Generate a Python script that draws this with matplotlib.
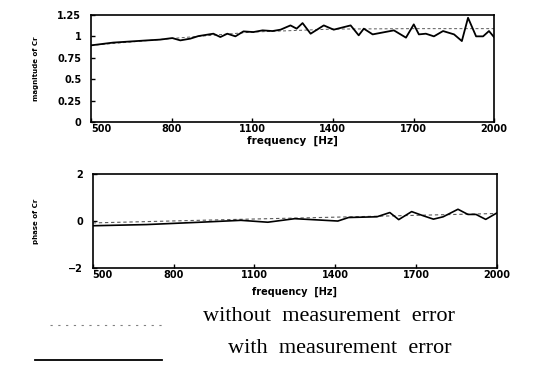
import matplotlib.pyplot as plt
from matplotlib.lines import Line2D

# magnitude of Cr, with measurement error
f_mag = [500, 582, 709, 757, 802, 832, 869, 899, 955, 981, 1007, 1037, 1067, 1104,
         1138, 1175, 1205, 1242, 1265, 1287, 1317, 1366, 1403, 1466, 1496, 1515,
         1548, 1627, 1672, 1701, 1720, 1746, 1776, 1810, 1851, 1880, 1903, 1933,
         1959, 1981, 2000]
mag_err = [0.895, 0.927, 0.953, 0.962, 0.98, 0.953, 0.973, 1.003, 1.031, 0.992,
           1.031, 1.0, 1.058, 1.05, 1.07, 1.062, 1.078, 1.128, 1.09, 1.155, 1.031,
           1.128, 1.078, 1.128, 1.012, 1.09, 1.023, 1.07, 0.985, 1.14, 1.023,
           1.031, 1.0, 1.062, 1.023, 0.945, 1.217, 1.0, 1.0, 1.062, 0.99]
# magnitude of Cr, without measurement error
f_mag0 = [500, 800, 1100, 1400, 1700, 2000]
mag_0 = [0.895, 0.975, 1.05, 1.085, 1.09, 1.09]

# phase of Cr, with measurement error
f_ph = [500, 700, 900, 1050, 1150, 1250, 1410, 1450, 1555, 1603, 1636, 1684,
        1728, 1765, 1801, 1856, 1893, 1923, 1959, 2000]
ph_err = [-0.2, -0.15, -0.05, 0.03, -0.05, 0.1, 0.0, 0.15, 0.18, 0.36, 0.06, 0.4,
          0.22, 0.08, 0.18, 0.5, 0.28, 0.28, 0.07, 0.34]
# phase of Cr, without measurement error
f_ph0 = [500, 1000, 1500, 2000]
ph_0 = [-0.08, 0.06, 0.19, 0.32]

xticks = [500, 800, 1100, 1400, 1700, 2000]
mag_ticks = [0, 0.25, 0.5, 0.75, 1, 1.25]
mag_ticklabels = ['0', '0.25', '0.5', '0.75', '1', '1.25']
ph_ticks = [-2, 0, 2]

tick_font = dict(family='DejaVu Sans', size=7, weight='bold')
dash_style = (0, (3, 2.5))

fig = plt.figure(figsize=(5.33, 3.74), dpi=100)

def style_axes(ax, xlabelpad, xlabelsize):
    ax.set_xlim(500, 2000)
    ax.set_xticks(xticks)
    ax.set_xticklabels([str(t) for t in xticks], fontdict=tick_font)
    ax.tick_params(direction='in', length=3, width=1)
    ax.tick_params(axis='x', pad=1.5)
    ax.tick_params(axis='y', pad=7)
    for s in ax.spines.values():
        s.set_linewidth(1.2)
    ax.get_xticklabels()[0].set_horizontalalignment('left')
    ax.set_xlabel('frequency  [Hz]', fontsize=xlabelsize, fontweight='semibold',
                  labelpad=xlabelpad)

# top: magnitude
ax1 = fig.add_axes([0.171, 0.674, 0.756, 0.286])
ax1.plot(f_mag0, mag_0, color='0.35', lw=0.7, linestyle=dash_style)
ax1.plot(f_mag, mag_err, color='black', lw=1.3)
ax1.set_ylim(0, 1.25)
ax1.set_yticks(mag_ticks)
ax1.set_yticklabels(mag_ticklabels, fontdict=tick_font)
style_axes(ax1, 1.5, 7.5)
ax1.set_ylabel('magnitude of Cr', fontsize=5, fontweight='bold', labelpad=13)

# bottom: phase
ax2 = fig.add_axes([0.174, 0.283, 0.758, 0.252])
ax2.plot(f_ph0, ph_0, color='0.35', lw=0.8, linestyle=dash_style)
ax2.plot(f_ph, ph_err, color='black', lw=1.2)
ax2.set_ylim(-2, 2)
ax2.set_yticks(ph_ticks)
ax2.set_yticklabels(['\u22122', '0', '2'], fontdict=tick_font)
style_axes(ax2, 5, 7)
ax2.set_ylabel('phase of Cr', fontsize=5, fontweight='bold', labelpad=21)

# legend below the plots: line keys and their labels
h0 = Line2D([], [], color='0.5', lw=0.8, linestyle=(0, (2, 5)))
h1 = Line2D([], [], color='black', lw=1.3)
fig.legend([h0], [' '], loc='center left', bbox_to_anchor=(0.094, 0.126),
           frameon=False, fontsize=16, borderpad=0, borderaxespad=0,
           handlelength=5.1, handletextpad=0)
fig.legend([h1], [' '], loc='center left', bbox_to_anchor=(0.066, 0.032),
           frameon=False, fontsize=16, borderpad=0, borderaxespad=0,
           handlelength=5.7, handletextpad=0)
fig.text(0.381, 0.155, 'without  measurement  error', family='Liberation Serif',
         size=16, va='center', ha='left')
fig.text(0.428, 0.067, 'with  measurement  error', family='Liberation Serif',
         size=16, va='center', ha='left')

fig.savefig('out.png', dpi=100)
